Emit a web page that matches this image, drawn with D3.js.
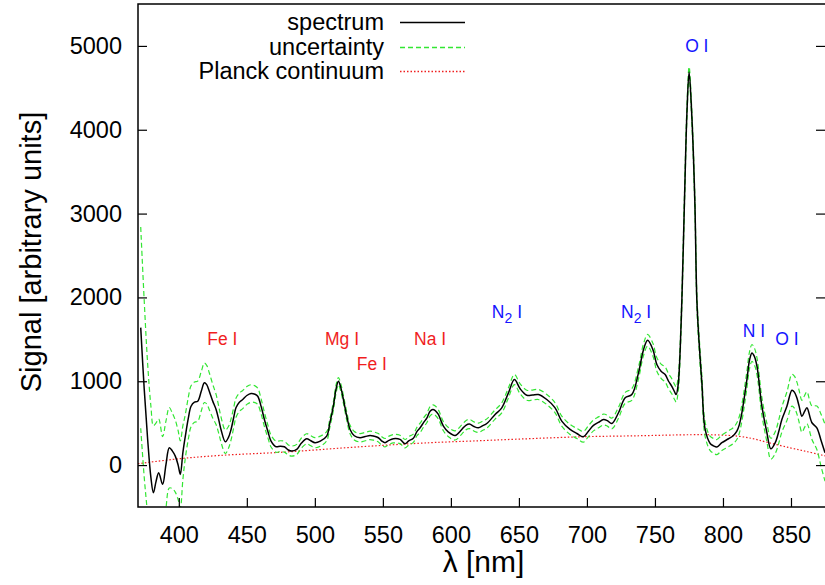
<!DOCTYPE html>
<html lang="en">
<head>
    <meta charset="UTF-8" />
    <title>Spectrum</title>
    <script src="https://d3js.org/d3.v7.min.js"></script>
    <style>
        body { margin: 0; background: #fff; }
        text { font-family: "Liberation Sans", Arial, sans-serif; }
    </style>
</head>
<body>
    <div id="chart"></div>
    <script>
// wavelength [nm], measured signal and its uncertainty (half width)
var wavelength = [372.0, 374.6, 377.1, 379.5, 381.3, 383.2, 385.2, 388.1, 390.5, 393.0, 395.2, 397.4, 399.5, 401.1, 403.0, 404.8,
    407.0, 409.0, 411.5, 413.9, 416.5, 418.8, 420.5, 422.4, 425.0, 427.4, 429.5, 431.0, 434.2, 436.5, 438.4, 440.5, 442.0,
    444.5, 447.0, 450.0, 453.1, 456.0, 458.0, 460.5, 462.9, 465.5, 467.8, 471.5, 474.5, 477.6, 480.5, 483.0, 486.7, 490.0,
    494.0, 497.0, 500.1, 504.0, 508.7, 511.0, 513.6, 515.5, 517.3, 519.0, 521.0, 523.5, 525.9, 529.0, 533.2, 537.0, 540.6,
    543.5, 546.7, 549.0, 551.6, 554.5, 557.7, 562.6, 566.3, 569.0, 572.4, 575.0, 577.4, 580.0, 582.3, 584.7, 586.7, 588.5,
    590.8, 594.5, 598.2, 603.1, 608.0, 611.0, 613.6, 617.0, 620.2, 623.5, 626.4, 632.5, 637.4, 642.3, 646.7, 650.9, 655.8,
    660.0, 664.3, 670.5, 676.6, 681.5, 687.6, 692.6, 697.4, 701.1, 704.8, 708.5, 712.2, 715.0, 718.3, 723.2, 728.1, 733.0,
    737.9, 741.6, 744.6, 748.5, 751.4, 754.5, 757.5, 760.0, 762.4, 764.5, 765.6, 767.0, 768.0, 769.8, 771.7, 773.5, 775.1,
    777.0, 779.3, 780.8, 782.5, 784.5, 786.9, 790.6, 793.0, 795.5, 799.2, 804.1, 807.5, 810.2, 812.0, 813.9, 817.6, 819.5,
    821.3, 823.0, 825.0, 828.6, 832.3, 835.2, 838.4, 841.0, 843.3, 847.0, 850.7, 852.5, 854.3, 856.0, 858.0, 860.0, 861.7,
    865.4, 869.0, 872.0, 875.0];
var signal = [1640, 900, 306, -150, -329, -200, -90, -230, 0, 207, 170, 107, 0, -111, 150, 345,
    560, 702, 750, 762, 880, 981, 960, 881, 760, 663, 530, 425, 278, 330, 425, 580, 683,
    750, 782, 830, 854, 845, 821, 700, 544, 400, 286, 219, 225, 219, 180, 167, 187, 260,
    314, 290, 267, 285, 345, 500, 702, 900, 1000, 930, 782, 580, 425, 350, 326, 340, 354,
    345, 326, 290, 267, 295, 314, 306, 255, 290, 320, 400, 445, 510, 560, 643, 663, 650,
    604, 464, 393, 354, 425, 475, 490, 460, 445, 470, 496, 604, 683, 862, 1020, 910, 833,
    835, 842, 782, 683, 524, 425, 377, 338, 405, 473, 510, 544, 530, 496, 624, 802, 842,
    1100, 1377, 1488, 1377, 1199, 1120, 1080, 1000, 940, 870, 842, 950, 1179, 1973, 3155, 4200, 4690,
    4200, 3155, 1973, 1450, 981, 425, 258, 230, 215, 267, 314, 350, 405, 480, 624, 1020, 1250,
    1338, 1300, 1179, 702, 386, 195, 267, 400, 544, 702, 893, 870, 802, 700, 583, 640, 683,
    505, 445, 300, 148];
var uncertainty = [1200, 1050, 900, 850, 800, 700, 640, 570, 520, 480, 450, 430, 410, 400, 320, 260,
    250, 245, 240, 240, 235, 235, 230, 220, 200, 180, 160, 150, 140, 130, 125, 120, 115,
    110, 108, 106, 105, 100, 98, 90, 85, 75, 70, 66, 65, 65, 60, 60, 60, 60,
    60, 60, 60, 60, 55, 50, 50, 50, 45, 45, 45, 50, 50, 50, 50, 50, 50,
    50, 50, 50, 50, 50, 50, 50, 50, 50, 50, 50, 55, 55, 55, 55, 55, 55,
    55, 55, 55, 55, 55, 55, 55, 55, 55, 55, 55, 55, 60, 60, 60, 60, 60,
    60, 60, 60, 60, 60, 60, 60, 65, 65, 65, 65, 65, 65, 65, 65, 65, 70,
    70, 70, 70, 75, 80, 85, 90, 90, 90, 90, 90, 85, 80, 75, 70, 70, 60,
    70, 75, 80, 85, 85, 85, 85, 88, 90, 92, 95, 95, 100, 100, 100, 100, 100,
    100, 100, 100, 105, 110, 125, 130, 140, 150, 170, 190, 190, 190, 190, 190, 190, 190,
    200, 260, 310, 340];

// Planck continuum fit
var planckWl = [370, 400, 430, 477.6, 530, 584.7, 614, 650, 697, 739, 776, 795, 811, 822, 832, 849, 862, 875];
var planckVal = [17, 75, 115, 155, 215, 267, 286, 310, 338, 350, 362, 360, 345, 315, 274, 207, 160, 110];

var xTicks = [400, 450, 500, 550, 600, 650, 700, 750, 800, 850];
var yTicks = [0, 1000, 2000, 3000, 4000, 5000];

// line identifications: label, subscript, suffix, wavelength and signal of the label's left baseline
var lineLabels = ["Fe I", "Mg I", "Fe I", "Na I", "N", "N", "O I", "N I", "O I"];
var lineSubs = ["", "", "", "", "2", "2", "", "", ""];
var lineSuffix = ["", "", "", "", " I", " I", "", "", ""];
var lineWl = [420.9, 507.5, 530.8, 572.9, 630.1, 725.1, 772.2, 814.6, 838.4];
var lineVal = [1437, 1437, 1139, 1437, 1758, 1758, 4929, 1532, 1437];
var lineColor = ["red", "red", "red", "red", "blue", "blue", "blue", "blue", "blue"];

var legendNames = ["spectrum", "uncertainty", "Planck continuum"];

var colors = { black: "#000", green: "#33e633", red: "#f01e1e", blue: "#1414ff" };

var width = 825, height = 585;
var margin = { left: 138, right: 0, top: 4, bottom: 78 };

var svg = d3.select("#chart").append("svg")
    .attr("width", width)
    .attr("height", height);

var x = d3.scaleLinear().domain([370, 875]).range([margin.left, width - margin.right]);
var y = d3.scaleLinear().domain([-500, 5500]).range([height - margin.bottom, margin.top]);

svg.append("clipPath").attr("id", "clip")
    .append("rect")
    .attr("x", margin.left).attr("y", margin.top)
    .attr("width", width - margin.left - margin.right)
    .attr("height", height - margin.top - margin.bottom);

var spec = wavelength.map(function(w, i) {
    return { w: w, v: signal[i], e: uncertainty[i] };
});
var planck = planckWl.map(function(w, i) { return { w: w, v: planckVal[i] }; });

var line = d3.line()
    .x(function(d) { return x(d.w); })
    .curve(d3.curveCatmullRom.alpha(0.5));

var plot = svg.append("g").attr("clip-path", "url(#clip)");

plot.append("path")
    .datum(planck)
    .attr("d", line.y(function(d) { return y(d.v); }))
    .attr("fill", "none")
    .attr("stroke", colors.red)
    .attr("stroke-width", 1.2)
    .attr("stroke-dasharray", "1.5,2");

[1, -1].forEach(function(sign) {
    plot.append("path")
        .datum(spec)
        .attr("d", line.y(function(d) { return y(d.v + sign * d.e); }))
        .attr("fill", "none")
        .attr("stroke", colors.green)
        .attr("stroke-width", 1.2)
        .attr("stroke-dasharray", "5,3");
});

plot.append("path")
    .datum(spec)
    .attr("d", line.y(function(d) { return y(d.v); }))
    .attr("fill", "none")
    .attr("stroke", colors.black)
    .attr("stroke-width", 1.5);

// frame and ticks
var x0 = margin.left, x1 = width - margin.right, y0 = height - margin.bottom, y1 = margin.top;

svg.append("path")
    .attr("d", "M" + x1 + "," + y1 + "H" + x0 + "V" + y0 + "H" + x1)
    .attr("fill", "none")
    .attr("stroke", "#000")
    .attr("stroke-width", 1.5);

var xAxis = svg.append("g").attr("transform", "translate(0," + y0 + ")")
    .call(d3.axisBottom(x).tickValues(xTicks).tickSize(-9).tickPadding(19).tickFormat(d3.format("d")));
var yAxis = svg.append("g").attr("transform", "translate(" + x0 + ",0)")
    .call(d3.axisLeft(y).tickValues(yTicks).tickSize(-9).tickPadding(16).tickFormat(d3.format("d")));
var yAxisRight = svg.append("g").attr("transform", "translate(" + x1 + ",0)")
    .call(d3.axisRight(y).tickValues(yTicks).tickSize(-9).tickFormat(""));

[xAxis, yAxis, yAxisRight].forEach(function(a) {
    a.select(".domain").remove();
    a.selectAll(".tick line").attr("stroke", "#000").attr("stroke-width", 1.2);
    a.selectAll("text").attr("font-size", 23.5).attr("fill", "#000")
        .style("font-family", "'Liberation Sans', Arial, sans-serif");
});
xAxis.selectAll("text").attr("dy", "0.71em");

svg.append("text")
    .attr("x", (x0 + x1) / 2 + 2)
    .attr("y", 572)
    .attr("text-anchor", "middle")
    .attr("font-size", 30)
    .text("λ [nm]");

svg.append("text")
    .attr("transform", "translate(41," + 252 + ") rotate(-90)")
    .attr("text-anchor", "middle")
    .attr("font-size", 29)
    .text("Signal [arbitrary units]");

// line identifications
lineLabels.forEach(function(lab, i) {
    var t = svg.append("text")
        .attr("x", x(lineWl[i]))
        .attr("y", y(lineVal[i]))
        .attr("font-size", 17.5)
        .attr("fill", colors[lineColor[i]]);
    t.append("tspan").text(lab);
    if (lineSubs[i]) {
        t.append("tspan").attr("dy", 5).attr("font-size", 14).text(lineSubs[i]);
        t.append("tspan").attr("dy", -5).text(lineSuffix[i]);
    }
});

// legend
var legendStyle = [
    { stroke: colors.black, dash: null },
    { stroke: colors.green, dash: "5,3" },
    { stroke: colors.red, dash: "1.5,2" }
];
legendNames.forEach(function(name, i) {
    var ly = Math.round(22 + i * 24.5) + 0.5;
    svg.append("text")
        .attr("x", 384)
        .attr("y", ly + 7.5)
        .attr("text-anchor", "end")
        .attr("font-size", 23.5)
        .text(name);
    svg.append("line")
        .attr("x1", 400).attr("x2", 465)
        .attr("y1", ly).attr("y2", ly)
        .attr("stroke", legendStyle[i].stroke)
        .attr("stroke-width", 1.5)
        .attr("stroke-dasharray", legendStyle[i].dash);
});
    </script>
</body>
</html>
